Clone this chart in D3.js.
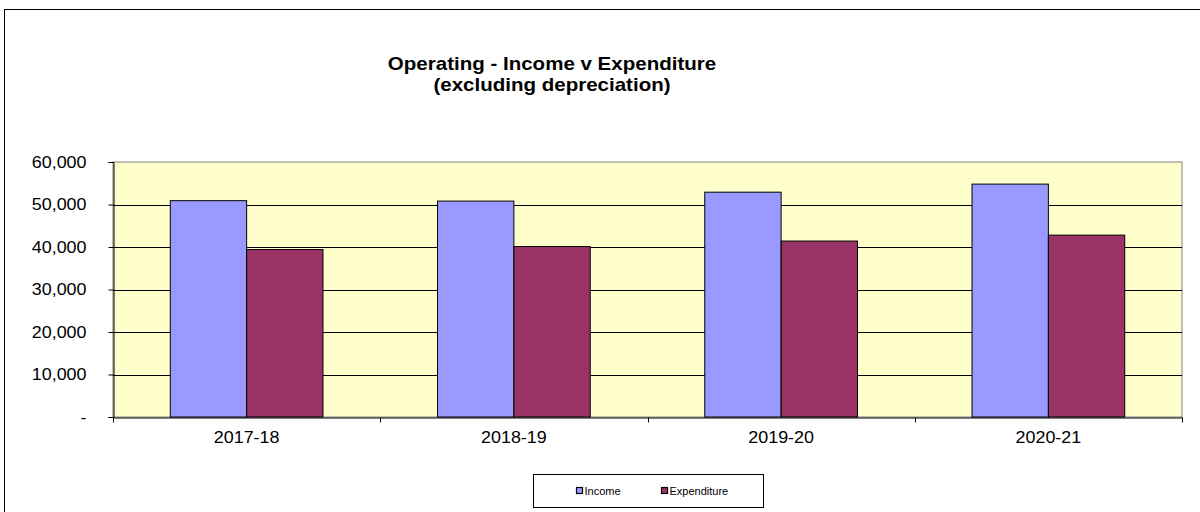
<!DOCTYPE html>
<html>
<head>
<meta charset="utf-8">
<script src="https://cdn.jsdelivr.net/npm/d3@7"></script>
<style>
  body { margin: 0; background: #fff; }
  text { font-family: Arial, "Liberation Sans", sans-serif; }
</style>
</head>
<body>
<svg id="chart" width="1200" height="512"></svg>
<script>
"use strict";

// chart data
let years = ["2017-18", "2018-19", "2019-20", "2020-21"];
let seriesNames = ["Income", "Expenditure"];
let income = [50900, 50800, 52900, 54800];
let expenditure = [39400, 40100, 41400, 42800];
let yTicks = [0, 10000, 20000, 30000, 40000, 50000, 60000];
let colors = ["#9999ff", "#993366"];

let svg = d3.select("#chart");
let plot = { left: 113, right: 1182, top: 162, bottom: 417 };

// outer border of the chart
svg.append("rect")
  .attr("x", 4.5).attr("y", 9.5)
  .attr("width", 1210).attr("height", 520)
  .attr("fill", "#fff").attr("stroke", "#000");

// title (Excel stretches its text a little wider)
let title = svg.append("g").attr("transform", "translate(552,0) scale(1.14,1)");
let titleText = title.append("text")
  .attr("text-anchor", "middle")
  .attr("font-weight", "bold")
  .attr("font-size", 18);
titleText.append("tspan").attr("x", 0).attr("y", 70).text("Operating - Income v Expenditure");
titleText.append("tspan").attr("x", 0).attr("y", 91).text("(excluding depreciation)");

let x0 = d3.scaleBand().domain(years).range([plot.left, plot.right]).paddingInner(0);
let barW = x0.bandwidth() / 3.5;
let x1 = d3.scaleBand().domain(seriesNames).range([0, barW * 2]);
let y = d3.scaleLinear().domain([0, 60000]).range([plot.bottom, plot.top]);

// plot background
svg.append("rect")
  .attr("x", plot.left).attr("y", plot.top)
  .attr("width", plot.right - plot.left).attr("height", plot.bottom - plot.top)
  .attr("fill", "#ffffcc").attr("stroke", "#808080");

// gridlines
svg.append("g")
  .selectAll("line")
  .data(yTicks.filter((d) => d > 0 && d < 60000))
  .enter()
  .append("line")
  .attr("x1", plot.left).attr("x2", plot.right)
  .attr("y1", (d) => Math.round(y(d)) + 0.5).attr("y2", (d) => Math.round(y(d)) + 0.5)
  .attr("stroke", "#000");

// bars
let groups = svg.append("g")
  .selectAll("g")
  .data(years)
  .enter()
  .append("g")
  .attr("transform", (d) => `translate(${x0(d) + (x0.bandwidth() - barW * 2) / 2},0)`);

groups.selectAll("rect")
  .data((d, i) => [income[i], expenditure[i]])
  .enter()
  .append("rect")
  .attr("x", (d, i) => x1(seriesNames[i]))
  .attr("y", (d) => y(d))
  .attr("width", x1.bandwidth())
  .attr("height", (d) => plot.bottom - y(d))
  .attr("fill", (d, i) => colors[i])
  .attr("stroke", "#000")
  .attr("stroke-width", 1);

// y axis
let yAxis = svg.append("g")
  .attr("transform", `translate(${plot.left + 0.5},0)`)
  .call(d3.axisLeft(y).tickValues(yTicks).tickSize(5).tickPadding(22)
    .tickFormat((d) => d === 0 ? "-" : d3.format(",")(d)));
yAxis.select(".domain").attr("stroke", "#000");
yAxis.selectAll("text")
  .attr("font-size", 16)
  .attr("fill", "#000")
  .attr("transform", function () {
    let xx = +d3.select(this).attr("x");
    return `translate(${xx},0) scale(1.12,1) translate(${-xx},0)`;
  });

// x axis
let xAxis = svg.append("g")
  .attr("transform", `translate(0,${plot.bottom + 0.5})`)
  .call(d3.axisBottom(x0).tickSize(0).tickPadding(14));
xAxis.select(".domain").attr("stroke", "#000");
xAxis.selectAll(".tick text")
  .attr("font-size", 16)
  .attr("fill", "#000")
  .attr("transform", "scale(1.12,1)");

// category boundary ticks
xAxis.append("g")
  .selectAll("line")
  .data(years.map((d) => x0(d)).concat([plot.right]))
  .enter()
  .append("line")
  .attr("x1", (d) => Math.round(d) + 0.5).attr("x2", (d) => Math.round(d) + 0.5)
  .attr("y1", 0).attr("y2", 5)
  .attr("stroke", "#000");

// legend
let legend = svg.append("g").attr("transform", "translate(533.5,474.5)");
legend.append("rect")
  .attr("width", 230).attr("height", 33)
  .attr("fill", "#fff").attr("stroke", "#000");
let items = legend.selectAll("g.item")
  .data(seriesNames)
  .enter()
  .append("g")
  .attr("class", "item")
  .attr("transform", (d, i) => `translate(${[43, 128][i]},13)`);
items.append("rect")
  .attr("width", 6).attr("height", 6)
  .attr("fill", (d, i) => colors[i])
  .attr("stroke", "#000").attr("stroke-width", 1.2);
items.append("text")
  .attr("x", 8).attr("y", 7)
  .attr("font-size", 11)
  .attr("fill", "#000")
  .text((d) => d);
</script>
</body>
</html>
